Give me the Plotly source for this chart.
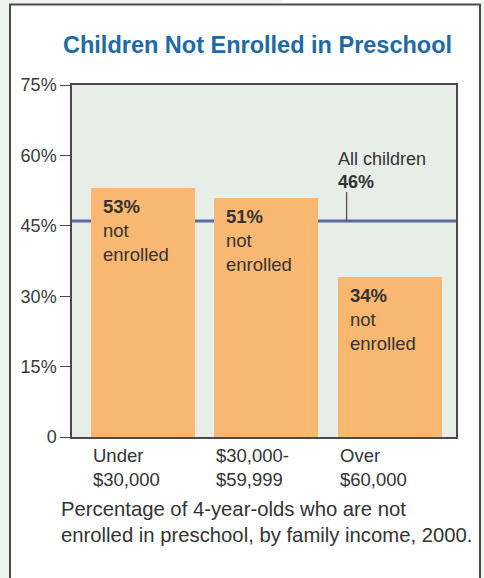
import plotly.graph_objects as go

# Data
income_groups = ["Under<br>$30,000", "$30,000-<br>$59,999", "Over<br>$60,000"]
pct_not_enrolled = [53, 51, 34]
all_children_pct = 46
y_tick_values = [0, 15, 30, 45, 60, 75]
y_tick_labels = ["0", "15%", "30%", "45%", "60%", "75%"]

TITLE = "Children Not Enrolled in Preschool"
CAPTION = ("Percentage of 4-year-olds who are not<br>"
           "enrolled in preschool, by family income, 2000.")

# Style
FONT = "Liberation Sans, Arial, Helvetica, sans-serif"
TEXT = "#333333"
BAR = "#f9b872"
PLOT_BG = "#e6eee7"
PAGE_BG = "#eef3ef"
LINE_BLUE = "#5b68a8"
FRAME = "#4a4a4a"
TITLE_BLUE = "#1c6aa6"

W, H = 484, 578
L, R, T, B = 72, 28, 85, 141
PW, PH = W - L - R, H - T - B
bar_w = 0.842
xs = list(range(len(pct_not_enrolled)))


def px_x(px):
    return (px - L) / PW


def px_y(py):
    return (H - B - py) / PH


fig = go.Figure()
fig.add_trace(go.Bar(
    x=xs, y=pct_not_enrolled, width=bar_w,
    marker=dict(color=BAR, line=dict(width=0)),
    hoverinfo="skip", showlegend=False,
))

annotations = []
for i, v in zip(xs, pct_not_enrolled):
    annotations.append(dict(
        x=i - bar_w / 2, y=v, xref="x", yref="y",
        xanchor="left", yanchor="top", xshift=10, yshift=-6,
        text=f"<b>{v}%</b><br>not<br>enrolled", align="left",
        showarrow=False, font=dict(family=FONT, size=18.5, color=TEXT),
    ))
for i, lab in zip(xs, income_groups):
    annotations.append(dict(
        x=i - bar_w / 2, y=0, xref="x", yref="y",
        xanchor="left", yanchor="top", yshift=-6,
        text=lab, align="left", showarrow=False,
        font=dict(family=FONT, size=18.5, color=TEXT),
    ))

# "All children" reference label
annotations.append(dict(
    x=1.565, y=all_children_pct, xref="x", yref="y",
    xanchor="left", yanchor="bottom", yshift=27,
    text=f"All children<br><b>{all_children_pct}%</b>", align="left",
    showarrow=False, font=dict(family=FONT, size=18, color=TEXT),
))

# Title and caption
annotations.append(dict(
    x=px_x(61), y=px_y(45), xref="paper", yref="paper",
    xanchor="left", yanchor="middle", text=f"<b>{TITLE}</b>",
    showarrow=False, font=dict(family=FONT, size=23.5, color=TITLE_BLUE),
))
annotations.append(dict(
    x=px_x(59), y=px_y(496), xref="paper", yref="paper",
    xanchor="left", yanchor="top", text=CAPTION, align="left",
    showarrow=False, font=dict(family=FONT, size=20.3, color=TEXT),
))

shapes = [
    # all-children level across the plot, behind the bars
    dict(type="line", xref="paper", yref="y", x0=0, x1=1,
         y0=all_children_pct, y1=all_children_pct,
         line=dict(color=LINE_BLUE, width=3), layer="below"),
    # leader from the label down to the level line
    dict(type="line", xref="x", yref="y", ysizemode="pixel",
         yanchor=all_children_pct, x0=1.652, x1=1.652, y0=0, y1=29,
         line=dict(color="#5a5048", width=1.3)),
    # page margins around the card
    dict(type="rect", xref="paper", yref="paper",
         x0=px_x(-5), x1=px_x(9), y0=px_y(H + 5), y1=px_y(-5),
         fillcolor=PAGE_BG, line=dict(width=0)),
    dict(type="rect", xref="paper", yref="paper",
         x0=px_x(-5), x1=px_x(283), y0=px_y(3.5), y1=px_y(-5),
         fillcolor=PAGE_BG, line=dict(width=0)),
    dict(type="rect", xref="paper", yref="paper",
         x0=px_x(481), x1=px_x(W + 5), y0=px_y(H + 5), y1=px_y(-5),
         fillcolor=PAGE_BG, line=dict(width=0)),
    # card frame
    dict(type="rect", xref="paper", yref="paper",
         x0=px_x(10), x1=px_x(480), y0=px_y(H + 20), y1=px_y(4.5),
         line=dict(color=FRAME, width=2), fillcolor="rgba(0,0,0,0)"),
]

fig.update_layout(
    width=W, height=H,
    margin=dict(l=L, r=R, t=T, b=B, pad=0),
    paper_bgcolor="white", plot_bgcolor=PLOT_BG,
    bargap=0, showlegend=False,
    annotations=annotations, shapes=shapes,
    xaxis=dict(range=[-0.572, 2.538], showticklabels=False, ticks="",
               showgrid=False, zeroline=False, showline=True, mirror=True,
               linecolor=FRAME, linewidth=1.5, fixedrange=True),
    yaxis=dict(range=[0, 75], tickvals=y_tick_values, ticktext=y_tick_labels,
               ticks="outside", ticklen=10, tickwidth=1.3, tickcolor=FRAME,
               showgrid=False, zeroline=False, showline=True, mirror=True,
               linecolor=FRAME, linewidth=1.5, fixedrange=True,
               tickfont=dict(family=FONT, size=18, color="#3a3a3a")),
)

fig.write_html("out.html", config={"displayModeBar": False})
